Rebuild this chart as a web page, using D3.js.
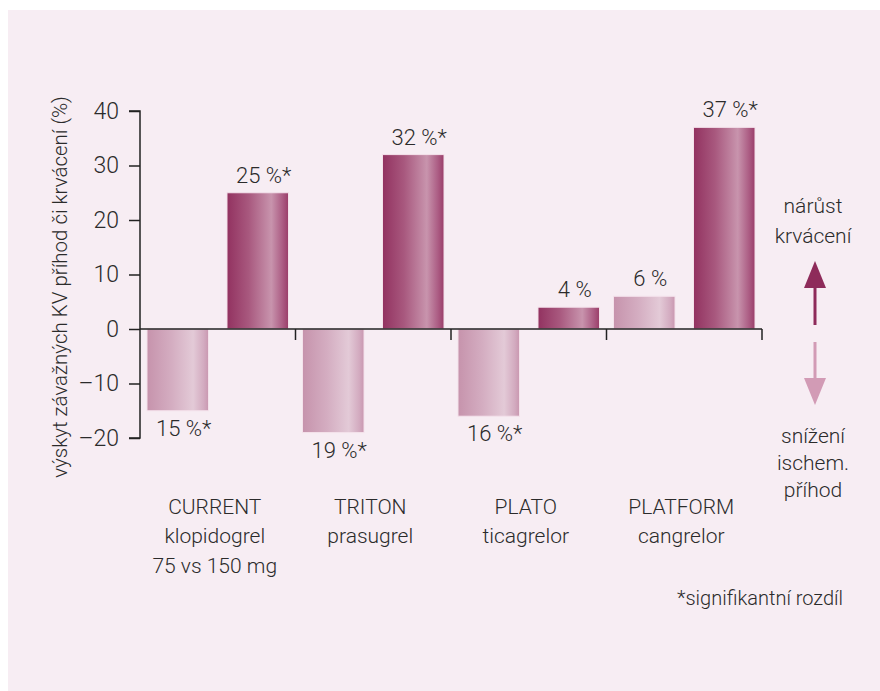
<!DOCTYPE html>
<html><head><meta charset="utf-8">
<script src="https://cdn.jsdelivr.net/npm/d3@7"></script>
<style>
html,body{margin:0;padding:0;background:#fff;}
svg text{font-family:Roboto,"Liberation Sans",sans-serif;font-weight:300;fill:#2b2b2b;}
</style></head>
<body>
<script>
// ---- data ----
const trials = ["CURRENT", "TRITON", "PLATO", "PLATFORM"];
const drugs = ["klopidogrel", "prasugrel", "ticagrelor", "cangrelor"];
const doses = ["75 vs 150 mg", "", "", ""];
const ischemic = [-15, -19, -16, 6];      // light bars
const bleeding = [25, 32, 4, 37];         // dark bars
const ischemicLabels = ["15 %*", "19 %*", "16 %*", "6 %"];
const bleedingLabels = ["25 %*", "32 %*", "4 %", "37 %*"];
const yTicks = [-20, -10, 0, 10, 20, 30, 40];
const yTitle = "výskyt závažných KV příhod  či krvácení (%)";
const upLabel = ["nárůst", "krvácení"];
const downLabel = ["snížení", "ischem.", "příhod"];
const footnote = "*signifikantní rozdíl";

const W = 880, H = 691;
const svg = d3.select("body").append("svg").attr("width", W).attr("height", H);

// background panel
svg.append("rect").attr("x", 8).attr("y", 10).attr("width", W - 8).attr("height", H - 10).attr("fill", "#f7edf3");

const defs = svg.append("defs");
const gDark = defs.append("linearGradient").attr("id", "gDark").attr("x1", "0").attr("x2", "1").attr("y1", "0").attr("y2", "0");
[[0, "#923260"], [0.35, "#a8587e"], [0.72, "#c894ad"], [0.9, "#ac5d84"], [1, "#9a3d69"]].forEach(([o, c]) =>
  gDark.append("stop").attr("offset", o).attr("stop-color", c));
const gLight = defs.append("linearGradient").attr("id", "gLight").attr("x1", "0").attr("x2", "1").attr("y1", "0").attr("y2", "0");
[[0, "#c693ac"], [0.4, "#d4adc1"], [0.75, "#e3cad7"], [0.92, "#d3abc0"], [1, "#c997b0"]].forEach(([o, c]) =>
  gLight.append("stop").attr("offset", o).attr("stop-color", c));

const y = d3.scaleLinear().domain([-20, 40]).range([438, 111]);
const x0 = d3.scaleBand().domain(trials).range([140, 762]).padding(0);
const x1 = d3.scaleBand().domain(["light", "dark"]).range([0, x0.bandwidth()])
  .paddingInner(0.231).paddingOuter(0.0875).align(0.5);

// y axis
const yAxis = svg.append("g").attr("transform", "translate(140,0)")
  .call(d3.axisLeft(y).tickValues(yTicks).tickSize(11).tickPadding(10)
    .tickFormat(d => d < 0 ? "–" + Math.abs(d) : String(d)));
yAxis.select(".domain").attr("stroke", "#222").attr("stroke-width", 1.5).attr("d", `M-11,${y(40)}H0V${y(-20)}H-11`);
yAxis.selectAll(".tick line").attr("stroke", "#222").attr("stroke-width", 1.5);
yAxis.selectAll(".tick text").attr("font-size", 23).attr("fill", "#2b2b2b")
  .style("font-family", "Roboto, 'Liberation Sans', sans-serif").style("font-weight", 300);

// bars
const groups = svg.append("g").selectAll("g").data(trials).join("g")
  .attr("transform", d => `translate(${x0(d)},0)`);
groups.append("rect")
  .attr("x", x1("light")).attr("width", x1.bandwidth())
  .attr("y", (d, i) => y(Math.max(0, ischemic[i])))
  .attr("height", (d, i) => Math.abs(y(ischemic[i]) - y(0)))
  .attr("fill", "url(#gLight)").attr("stroke", "#f4e2eb").attr("stroke-width", 1);
groups.append("rect")
  .attr("x", x1("dark")).attr("width", x1.bandwidth())
  .attr("y", (d, i) => y(Math.max(0, bleeding[i])))
  .attr("height", (d, i) => Math.abs(y(bleeding[i]) - y(0)))
  .attr("fill", "url(#gDark)").attr("stroke", "#f4e2eb").attr("stroke-width", 1);

// value labels
function lab(vals, labels, key) {
  groups.append("text")
    .attr("x", x1(key) + x1.bandwidth() / 2 + 6)
    .attr("y", (d, i) => vals[i] >= 0 ? y(vals[i]) - 10 : y(vals[i]) + 25)
    .attr("text-anchor", "middle").attr("font-size", 22)
    .text((d, i) => labels[i]);
}
lab(ischemic, ischemicLabels, "light");
lab(bleeding, bleedingLabels, "dark");

// zero baseline with group separators
svg.append("line").attr("x1", 140).attr("x2", x0.range()[1]).attr("y1", y(0)).attr("y2", y(0))
  .attr("stroke", "#222").attr("stroke-width", 1.5);
svg.append("g").selectAll("line").data(trials).join("line")
  .attr("x1", d => x0(d) + x0.bandwidth()).attr("x2", d => x0(d) + x0.bandwidth())
  .attr("y1", y(0)).attr("y2", y(0) + 11).attr("stroke", "#222").attr("stroke-width", 1.5);

// category labels
const cat = svg.append("g").selectAll("text").data(trials).join("text")
  .attr("text-anchor", "middle").attr("font-size", 21)
  .attr("x", d => x0(d) + x0.bandwidth() / 2 - 3).attr("y", 514);
cat.append("tspan").text(d => d);
cat.append("tspan").attr("x", d => x0(d) + x0.bandwidth() / 2 - 3).attr("dy", 29).text((d, i) => drugs[i]);
cat.append("tspan").attr("x", d => x0(d) + x0.bandwidth() / 2 - 3).attr("dy", 30).text((d, i) => doses[i]);

// y title
svg.append("text").attr("transform", "translate(67,287) rotate(-90)").attr("text-anchor", "middle")
  .attr("font-size", 20.5).text(yTitle);

// right-hand annotations
const ax = 815;
svg.append("g").selectAll("text").data(upLabel).join("text")
  .attr("x", ax - 2).attr("y", (d, i) => 213 + i * 30).attr("text-anchor", "middle").attr("font-size", 21).text(d => d);
svg.append("line").attr("x1", ax).attr("x2", ax).attr("y1", 325).attr("y2", 284).attr("stroke", "#8e2b5a").attr("stroke-width", 3);
svg.append("path").attr("d", `M${ax},261L${ax - 11},288L${ax + 11},288Z`).attr("fill", "#8e2b5a");
svg.append("line").attr("x1", ax).attr("x2", ax).attr("y1", 342).attr("y2", 382).attr("stroke", "#d29bb5").attr("stroke-width", 3);
svg.append("path").attr("d", `M${ax},405L${ax - 11},378L${ax + 11},378Z`).attr("fill", "#d29bb5");
svg.append("g").selectAll("text").data(downLabel).join("text")
  .attr("x", ax - 2).attr("y", (d, i) => 443 + i * 27).attr("text-anchor", "middle").attr("font-size", 21).text(d => d);

// footnote
svg.append("text").attr("x", 843).attr("y", 605).attr("text-anchor", "end").attr("font-size", 20).text(footnote);
</script>
</body></html>
